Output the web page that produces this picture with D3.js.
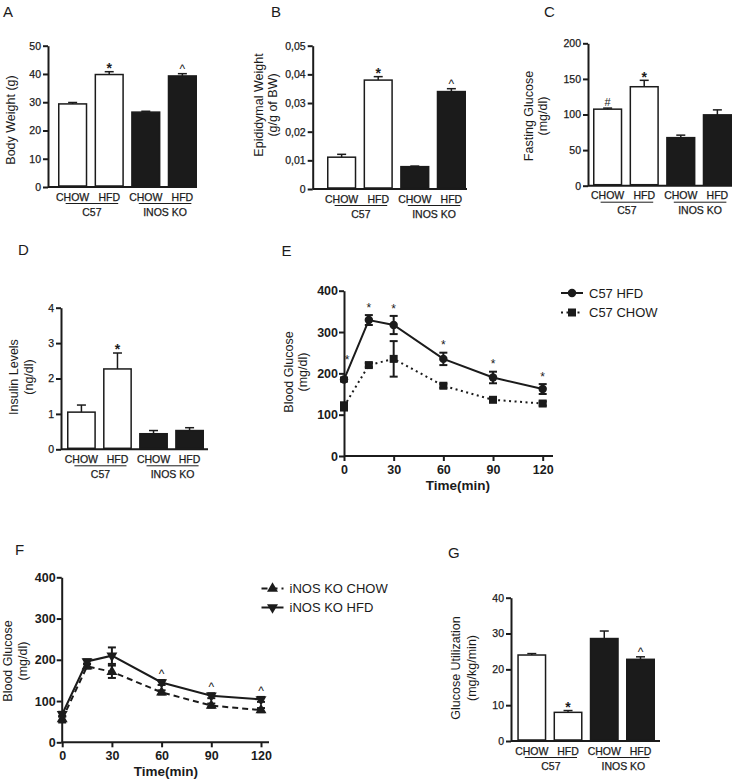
<!DOCTYPE html>
<html><head><meta charset="utf-8">
<script src="https://cdn.jsdelivr.net/npm/d3@7"></script>
<style>
body{margin:0;background:#fff}
svg{display:block;font-family:"Liberation Sans",Arial,Helvetica,sans-serif}
</style>
</head><body>
<svg id="c" width="738" height="781"></svg>
<script>
// ---------------- DATA ----------------
const groups = ["C57 CHOW", "C57 HFD", "INOS KO CHOW", "INOS KO HFD"];
const dietLabels = ["CHOW", "HFD", "CHOW", "HFD"];
const strainLabels = ["C57", "INOS KO"];

const bodyWeight = [29.4, 39.8, 26.5, 39.3];
const bodyWeightErr = [0.5, 1.0, 0.3, 0.8];
const bodyWeightSig = ["", "*", "", "^"];
const bodyWeightTicks = [0, 10, 20, 30, 40, 50];

const epiWeight = [0.0111, 0.0380, 0.0078, 0.0340];
const epiWeightErr = [0.0010, 0.0012, 0.0002, 0.0010];
const epiWeightSig = ["", "*", "", "^"];
const epiWeightTicks = [0, 0.01, 0.02, 0.03, 0.04, 0.05];

const fastGlucose = [107.5, 139, 67.5, 99.5];
const fastGlucoseErr = [1.5, 9, 3.5, 7];
const fastGlucoseSig = ["#", "*", "", ""];
const fastGlucoseTicks = [0, 50, 100, 150, 200];

const insulin = [1.05, 2.27, 0.44, 0.53];
const insulinErr = [0.2, 0.45, 0.09, 0.08];
const insulinSig = ["", "*", "", ""];
const insulinTicks = [0, 1, 2, 3, 4];

const glucoseUtil = [24.0, 8.0, 28.6, 22.8];
const glucoseUtilErr = [0.4, 0.5, 2.1, 0.7];
const glucoseUtilSig = ["", "*", "", "^"];
const glucoseUtilTicks = [0, 10, 20, 30, 40];

const timePoints = [0, 15, 30, 60, 90, 120];
const timeTicks = [0, 30, 60, 90, 120];
const glucoseTicks = [0, 100, 200, 300, 400];

const c57Names = ["C57 HFD", "C57 CHOW"];
const c57Hfd = [185, 329, 317, 235, 190, 162];
const c57HfdErr = [5, 12, 22, 15, 14, 12];
const c57Chow = [120, 220, 235, 170, 136, 127];
const c57ChowErr = [10, 5, 43, 5, 5, 5];
const c57Sig = ["*", "*", "*", "*", "*", "*"];

const inosNames = ["iNOS KO CHOW", "iNOS KO HFD"];
const inosChow = [56, 184, 171, 121, 89, 78];
const inosChowErr = [8, 5, 15, 5, 5, 5];
const inosHfd = [68, 196, 210, 145, 113, 104];
const inosHfdErr = [6, 5, 20, 6, 6, 6];
const inosSig = ["", "", "", "^", "^", "^"];

// ---------------- DRAWING ----------------
const INK = "#1b1b1b";
const svg = d3.select("#c");
const fills = ["#fff", "#fff", INK, INK];
const symCenter = {"*": 0.56, "^": 0.5, "#": 0.36};

function panelLetter(t, x, y) {
  svg.append("text").attr("x", x).attr("y", y).attr("font-size", 15).attr("fill", INK).text(t);
}
function yTitle(lines, xs, cy, size) {
  lines.forEach((l, i) => {
    svg.append("text").attr("transform", `translate(${xs[i]},${cy}) rotate(-90)`)
      .attr("text-anchor", "middle").attr("dy", "0.36em")
      .attr("font-size", size).attr("fill", INK).text(l);
  });
}
function styleAxis(g, fs, bold) {
  g.selectAll(".domain").attr("stroke", INK).attr("stroke-width", 2);
  g.selectAll(".tick line").attr("stroke", INK).attr("stroke-width", 2);
  g.selectAll(".tick text").attr("fill", INK).attr("font-size", fs)
    .attr("font-weight", bold ? "bold" : "normal")
    .attr("stroke", bold ? "none" : INK).attr("stroke-width", bold ? 0 : 0.25)
    .attr("font-family", '"Liberation Sans",Arial,sans-serif');
}

function barPanel(p) {
  const g = svg.append("g");
  const y = d3.scaleLinear().domain([0, p.ticks[p.ticks.length - 1]]).range([p.y0, p.y1]);
  const x = d3.scaleBand().domain(groups).range([p.xs, p.xe]).paddingInner(0.2).paddingOuter(0);
  const bw = x.bandwidth();
  g.append("line").attr("x1", p.ax).attr("x2", p.axEnd).attr("y1", p.y0).attr("y2", p.y0)
    .attr("stroke", INK).attr("stroke-width", 2);
  const ya = g.append("g").attr("transform", `translate(${p.ax},0)`)
    .call(d3.axisLeft(y).tickValues(p.ticks).tickFormat(p.fmt).tickSize(5).tickSizeOuter(0).tickPadding(2));
  styleAxis(ya, 10.5, false);
  g.selectAll("rect.bar").data(groups).join("rect").attr("class", "bar")
    .attr("x", d => x(d) + 0.75).attr("width", bw - 1.5)
    .attr("y", (d, i) => y(p.values[i])).attr("height", (d, i) => p.y0 - y(p.values[i]) - 1)
    .attr("fill", (d, i) => fills[i]).attr("stroke", INK).attr("stroke-width", 1.5);
  groups.forEach((d, i) => {
    const cx = x(d) + bw / 2, top = y(p.values[i] + p.err[i]);
    g.append("line").attr("x1", cx).attr("x2", cx).attr("y1", y(p.values[i])).attr("y2", top)
      .attr("stroke", INK).attr("stroke-width", 1.5);
    g.append("line").attr("x1", cx - 4.5).attr("x2", cx + 4.5).attr("y1", top).attr("y2", top)
      .attr("stroke", INK).attr("stroke-width", 1.5);
    const s = p.sig[i];
    if (s) {
      const fs = s === "*" ? 14 : (s === "#" ? 11 : 12);
      g.append("text").attr("x", cx).attr("y", top - 6.5 + symCenter[s] * fs)
        .attr("text-anchor", "middle").attr("font-size", fs)
        .attr("font-weight", s === "*" ? "bold" : "normal")
        .attr("fill", INK).text(s);
    }
    g.append("text").attr("x", cx).attr("y", p.y0 + 13.5).attr("text-anchor", "middle")
      .attr("font-size", 10.5).attr("fill", INK).attr("stroke", INK).attr("stroke-width", 0.25)
      .text(dietLabels[i]);
  });
  strainLabels.forEach((s, k) => {
    const a = x(groups[2 * k]) + bw / 2 - 7, b = x(groups[2 * k + 1]) + bw / 2 + 9;
    g.append("line").attr("x1", a).attr("x2", b).attr("y1", p.y0 + 16.5).attr("y2", p.y0 + 16.5)
      .attr("stroke", INK).attr("stroke-width", 1);
    g.append("text").attr("x", (a + b) / 2).attr("y", p.y0 + 28.5).attr("text-anchor", "middle")
      .attr("font-size", 10.5).attr("fill", INK).attr("stroke", INK).attr("stroke-width", 0.25).text(s);
  });
  panelLetter(p.letter, p.lx, p.ly);
  yTitle(p.title, p.tx, p.ty, 12.5);
}

const commaFmt = d => d === 0 ? "0" : d3.format(".2f")(d).replace(".", ",");

barPanel({letter: "A", lx: 3, ly: 17, ax: 48, axEnd: 197, xs: 58, xe: 197, y0: 187, y1: 45.7,
  ticks: bodyWeightTicks, fmt: d3.format("d"), values: bodyWeight, err: bodyWeightErr, sig: bodyWeightSig,
  title: ["Body Weight (g)"], tx: [10], ty: 120});
barPanel({letter: "B", lx: 271, ly: 17, ax: 312.7, axEnd: 467, xs: 327, xe: 466, y0: 189, y1: 45.7,
  ticks: epiWeightTicks, fmt: commaFmt, values: epiWeight, err: epiWeightErr, sig: epiWeightSig,
  title: ["Epididymal Weight", "(g/g of BW)"], tx: [258.5, 272.5], ty: 105});
barPanel({letter: "C", lx: 544, ly: 17, ax: 588, axEnd: 732, xs: 593, xe: 732, y0: 185.7, y1: 43.3,
  ticks: fastGlucoseTicks, fmt: d3.format("d"), values: fastGlucose, err: fastGlucoseErr, sig: fastGlucoseSig,
  title: ["Fasting Glucose", "(mg/dl)"], tx: [528, 542], ty: 116});
barPanel({letter: "D", lx: 18, ly: 255, ax: 61, axEnd: 208, xs: 67, xe: 204, y0: 449.3, y1: 307.7,
  ticks: insulinTicks, fmt: d3.format("d"), values: insulin, err: insulinErr, sig: insulinSig,
  title: ["Insulin Levels", "(ng/dl)"], tx: [13, 28], ty: 377});
barPanel({letter: "G", lx: 448, ly: 557.5, ax: 511, axEnd: 660, xs: 517.3, xe: 655, y0: 741, y1: 597.7,
  ticks: glucoseUtilTicks, fmt: d3.format("d"), values: glucoseUtil, err: glucoseUtilErr, sig: glucoseUtilSig,
  title: ["Glucose Utilization", "(mg/kg/min)"], tx: [455, 471], ty: 668});

function symbolPath(kind) {
  if (kind === "circle") return d3.symbol(d3.symbolCircle, 56)();
  if (kind === "square") return d3.symbol(d3.symbolSquare, 64)();
  return d3.symbol(d3.symbolTriangle, 52)();
}

function linePanel(p) {
  const g = svg.append("g");
  const x = d3.scaleLinear().domain([0, 120]).range([p.x0, p.x120]);
  const y = d3.scaleLinear().domain([0, 400]).range([p.y0, p.y1]);
  g.append("line").attr("x1", p.ax).attr("x2", p.axEnd).attr("y1", p.y0).attr("y2", p.y0)
    .attr("stroke", INK).attr("stroke-width", 2);
  const xa = g.append("g").attr("transform", `translate(0,${p.y0})`)
    .call(d3.axisBottom(x).tickValues(timeTicks).tickSize(5).tickSizeOuter(0).tickPadding(4));
  xa.select(".domain").remove();
  styleAxis(xa, 12.5, true);
  const ya = g.append("g").attr("transform", `translate(${p.ax},0)`)
    .call(d3.axisLeft(y).tickValues(glucoseTicks).tickSize(5).tickSizeOuter(0).tickPadding(1));
  styleAxis(ya, 12.5, true);
  g.append("text").attr("x", p.tcx).attr("y", p.y0 + 34).attr("text-anchor", "middle")
    .attr("font-size", 13.5).attr("font-weight", "bold").attr("fill", INK).text("Time(min)");

  p.series.forEach((s, si) => {
    const line = d3.line().x((d, i) => x(timePoints[i])).y(d => y(d));
    g.append("path").datum(s.values).attr("d", line).attr("fill", "none")
      .attr("stroke", INK).attr("stroke-width", 2).attr("stroke-dasharray", s.dash);
    s.values.forEach((v, i) => {
      const cx = x(timePoints[i]);
      const lo = y(v - s.err[i]), hi = y(v + s.err[i]);
      g.append("line").attr("x1", cx).attr("x2", cx).attr("y1", lo).attr("y2", hi)
        .attr("stroke", INK).attr("stroke-width", 2);
      [lo, hi].forEach(yy => g.append("line").attr("x1", cx - 4).attr("x2", cx + 4)
        .attr("y1", yy).attr("y2", yy).attr("stroke", INK).attr("stroke-width", 2));
      g.append("path").attr("d", symbolPath(s.marker))
        .attr("transform", `translate(${cx},${y(v)}) rotate(${s.rot})`).attr("fill", INK);
    });
    const ly = p.legY[si];
    g.append("line").attr("x1", p.legX).attr("x2", p.legX + 22).attr("y1", ly).attr("y2", ly)
      .attr("stroke", INK).attr("stroke-width", 2).attr("stroke-dasharray", s.dash);
    g.append("path").attr("d", symbolPath(s.marker))
      .attr("transform", `translate(${p.legX + 11},${ly}) rotate(${s.rot})`).attr("fill", INK);
    g.append("text").attr("x", p.legX + 28).attr("y", ly).attr("dy", "0.36em")
      .attr("font-size", 13).attr("fill", INK).text(s.name);
  });
  const ref = p.series[p.sigSeries];
  p.sig.forEach((sym, i) => {
    if (!sym) return;
    const fs = 12;
    const cy = y(ref.values[i] + ref.err[i]) - p.sigGap[i];
    g.append("text").attr("x", x(timePoints[i]) + p.sigDx[i]).attr("y", cy + symCenter[sym] * fs)
      .attr("text-anchor", "middle").attr("font-size", fs).attr("fill", INK).text(sym);
  });
  panelLetter(p.letter, p.lx, p.ly);
  yTitle(["Blood Glucose", "(mg/dl)"], p.tx, p.ty, 12.5);
}

linePanel({letter: "E", lx: 281.5, ly: 256, ax: 344, axEnd: 553, x0: 344, x120: 542.7, y0: 456, y1: 290.7,
  tcx: 458, tx: [288, 302.5], ty: 372, legX: 561, legY: [293, 312.5],
  series: [
    {name: c57Names[0], values: c57Hfd, err: c57HfdErr, dash: null, marker: "circle", rot: 0},
    {name: c57Names[1], values: c57Chow, err: c57ChowErr, dash: "2,3.5", marker: "square", rot: 0}
  ],
  sigSeries: 0, sig: c57Sig, sigGap: [20, 10, 10, 10, 10, 10], sigDx: [3, 0, 0, 0, 0, 0]});

linePanel({letter: "F", lx: 15, ly: 555, ax: 61.7, axEnd: 269, x0: 62.2, x120: 261, y0: 742.3, y1: 577.3,
  tcx: 166, tx: [7.5, 22.5], ty: 661, legX: 261.5, legY: [588.5, 607.5],
  series: [
    {name: inosNames[0], values: inosChow, err: inosChowErr, dash: "6,4", marker: "triangle", rot: 0},
    {name: inosNames[1], values: inosHfd, err: inosHfdErr, dash: null, marker: "triangle", rot: 180}
  ],
  sigSeries: 1, sig: inosSig, sigGap: [8, 8, 8, 8, 8, 8], sigDx: [0, 0, 0, 0, 0, 0]});
</script>
</body></html>
